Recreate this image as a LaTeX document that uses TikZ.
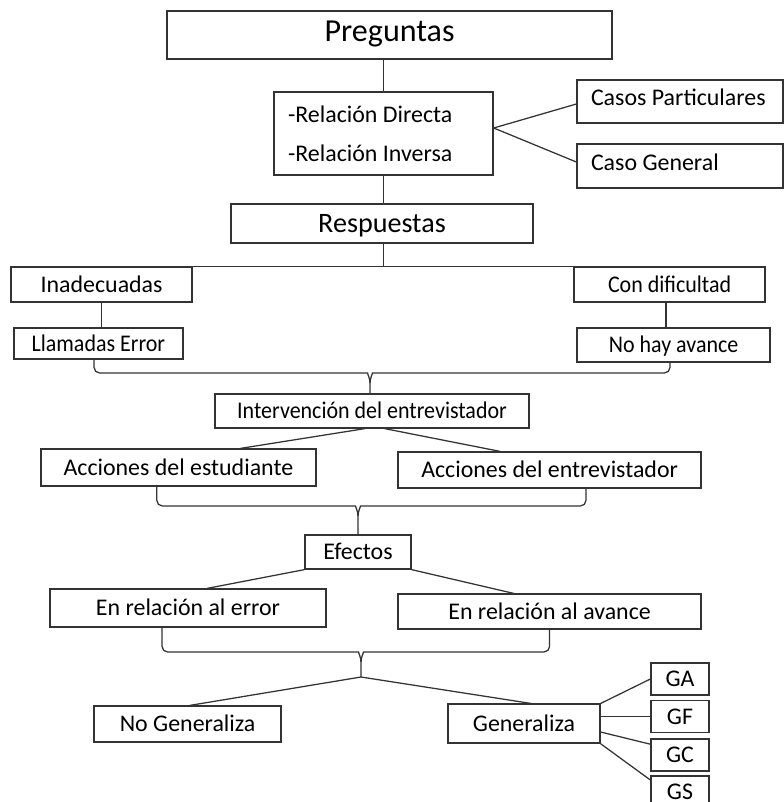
\documentclass[tikz,border=0pt]{standalone}
\usepackage{fontspec}
\setmainfont{Carlito}
\newfontfamily\estrecha[FakeStretch=0.92]{Carlito}

\tikzset{
    caja/.style={draw=black!80, line width=0.9pt, inner sep=0pt, text height=11pt, text depth=0pt, font=\fontsize{17}{20}\selectfont},
    cajaizq/.style={caja, align=flush left, inner xsep=0.35cm, text depth=5pt},
    angosta/.style={caja, font=\estrecha\fontsize{17}{20}\selectfont},
    linea/.style={draw=black!80, line width=0.9pt},
}

\begin{document}
\begin{tikzpicture}
    \useasboundingbox (0,0) rectangle (19.6,-20.05);

    % Preguntas
    \node[caja, font=\fontsize{22.8}{26}\selectfont, text height=14.7pt, text depth=5pt, minimum width=11.125cm, minimum height=1.2cm] (preg) at (9.74,-0.875) {Preguntas};
    \node[cajaizq, font=\fontsize{17}{27.7}\selectfont, text height=, text depth=, text width=4.775cm, minimum height=2.075cm] (rel) at (9.59,-3.34) {-Relación Directa\\-Relación Inversa};
    \node[cajaizq, text width=4.45cm, minimum height=1.075cm] (casp) at (17.0,-2.54) {Casos Particulares};
    \node[cajaizq, text width=4.45cm, minimum height=1.1cm] (casg) at (17.0,-4.15) {Caso General};
    \node[caja, font=\fontsize{20}{23}\selectfont, text height=12.9pt, minimum width=7.55cm, minimum height=0.975cm] (resp) at (9.55,-5.59) {Respuestas};

    \draw[linea] (rel.north |- preg.south) -- (rel.north);
    \draw[linea] (rel.south) -- (rel.south |- resp.north);
    \draw[linea] ([yshift=0.14cm]rel.east) -- ([yshift=-0.06cm]casp.west);
    \draw[linea] ([yshift=0.14cm]rel.east) -- ([yshift=0.1cm]casg.west);

    % Respuestas
    \node[caja, minimum width=4.525cm, minimum height=0.875cm] (inad) at (2.54,-7.11) {Inadecuadas};
    \node[angosta, minimum width=4.775cm, minimum height=0.875cm] (cond) at (16.74,-7.11) {Con dificultad};
    \node[angosta, minimum width=4.225cm, minimum height=0.775cm] (llam) at (2.46,-8.59) {Llamadas Error};
    \node[angosta, minimum width=4.825cm, minimum height=0.85cm] (nohay) at (16.84,-8.625) {No hay avance};

    \draw[linea] (rel.south |- resp.south) -- (rel.south |- inad.north);
    \draw[linea] (inad.north east) -- (cond.north west);
    \draw[linea] (inad.south) -- (inad.south |- llam.north);
    \draw[linea] ([xshift=-0.09cm]cond.south) -- ([xshift=-0.09cm]cond.south |- nohay.north);

    % Intervencion
    \node[angosta, minimum width=7.85cm, minimum height=0.85cm] (inter) at (9.3,-10.275) {Intervención del entrevistador};
    \node[caja, minimum width=6.875cm, minimum height=0.925cm] (acest) at (4.46,-11.69) {Acciones del estudiante};
    \node[caja, minimum width=7.575cm, minimum height=0.9cm] (acent) at (13.74,-11.75) {Acciones del entrevistador};

    \coordinate (b1) at (9.25,-9.325);
    \draw[linea, rounded corners=4pt] ([xshift=-0.11cm]llam.south) |- ([xshift=-0.2cm]b1) [sharp corners] to[out=0,in=90] ([yshift=-0.25cm]b1) -- (b1 |- inter.north);
    \draw[linea, rounded corners=4pt] ([xshift=-0.09cm]nohay.south) |- ([xshift=0.2cm]b1) [sharp corners] to[out=180,in=90] ([yshift=-0.25cm]b1);
    \draw[linea] ([xshift=-0.18cm]inter.south) -- ([xshift=1.54cm]acest.north);
    \draw[linea] ([xshift=0.32cm]inter.south) -- ([xshift=-1.24cm]acent.north);

    % Efectos
    \node[caja, minimum width=2.65cm, minimum height=0.85cm] (efec) at (8.95,-13.8) {Efectos};
    \node[caja, minimum width=6.9cm, minimum height=0.95cm] (erel) at (4.7,-15.2) {En relación al error};
    \node[caja, minimum width=7.575cm, minimum height=0.875cm] (erav) at (13.74,-15.29) {En relación al avance};

    \coordinate (b2) at (8.95,-12.65);
    \draw[linea, rounded corners=4pt] ([xshift=-0.54cm]acest.south) |- ([xshift=-0.2cm]b2) [sharp corners] to[out=0,in=90] ([yshift=-0.25cm]b2) -- (efec.north);
    \draw[linea, rounded corners=4pt] ([xshift=0.91cm]acent.south) |- ([xshift=0.2cm]b2) [sharp corners] to[out=180,in=90] ([yshift=-0.25cm]b2);
    \draw[linea] (efec.south west) -- ([xshift=0.48cm]erel.north);
    \draw[linea] (efec.south east) -- ([xshift=-0.89cm]erav.north);

    % Generaliza
    \node[caja, minimum width=4.675cm, minimum height=0.9cm] (nogen) at (4.69,-18.1) {No Generaliza};
    \node[caja, minimum width=3.8cm, minimum height=0.975cm] (gen) at (13.1,-18.09) {Generaliza};
    \foreach \g/\y in {GA/-16.975, GF/-17.91, GC/-18.875, GS/-19.8}
        \node[caja, minimum width=1.45cm, minimum height=0.8cm] (\g) at (17.0,\y) {\g};

    \coordinate (b3) at (9.025,-16.3);
    \coordinate (b3t) at (9.025,-16.925);
    \draw[linea, rounded corners=4pt] ([xshift=-0.65cm]erel.south) |- ([xshift=-0.2cm]b3) [sharp corners] to[out=0,in=90] ([yshift=-0.25cm]b3) -- (b3t);
    \draw[linea, rounded corners=4pt] (erav.south) |- ([xshift=0.2cm]b3) [sharp corners] to[out=180,in=90] ([yshift=-0.25cm]b3);
    \draw[linea] (b3t) -- ([xshift=0.06cm]nogen.north);
    \draw[linea] (b3t) -- ([xshift=0.18cm]gen.north);

    \draw[linea] (gen.north east) -- (GA.west);
    \draw[linea] (GF.west -| gen.east) -- (GF.west);
    \draw[linea] ([yshift=-0.21cm]gen.east) -- ([yshift=0.27cm]GC.west);
    \draw[linea] (gen.south east) -- ([yshift=0.3cm]GS.west);
\end{tikzpicture}
\end{document}
